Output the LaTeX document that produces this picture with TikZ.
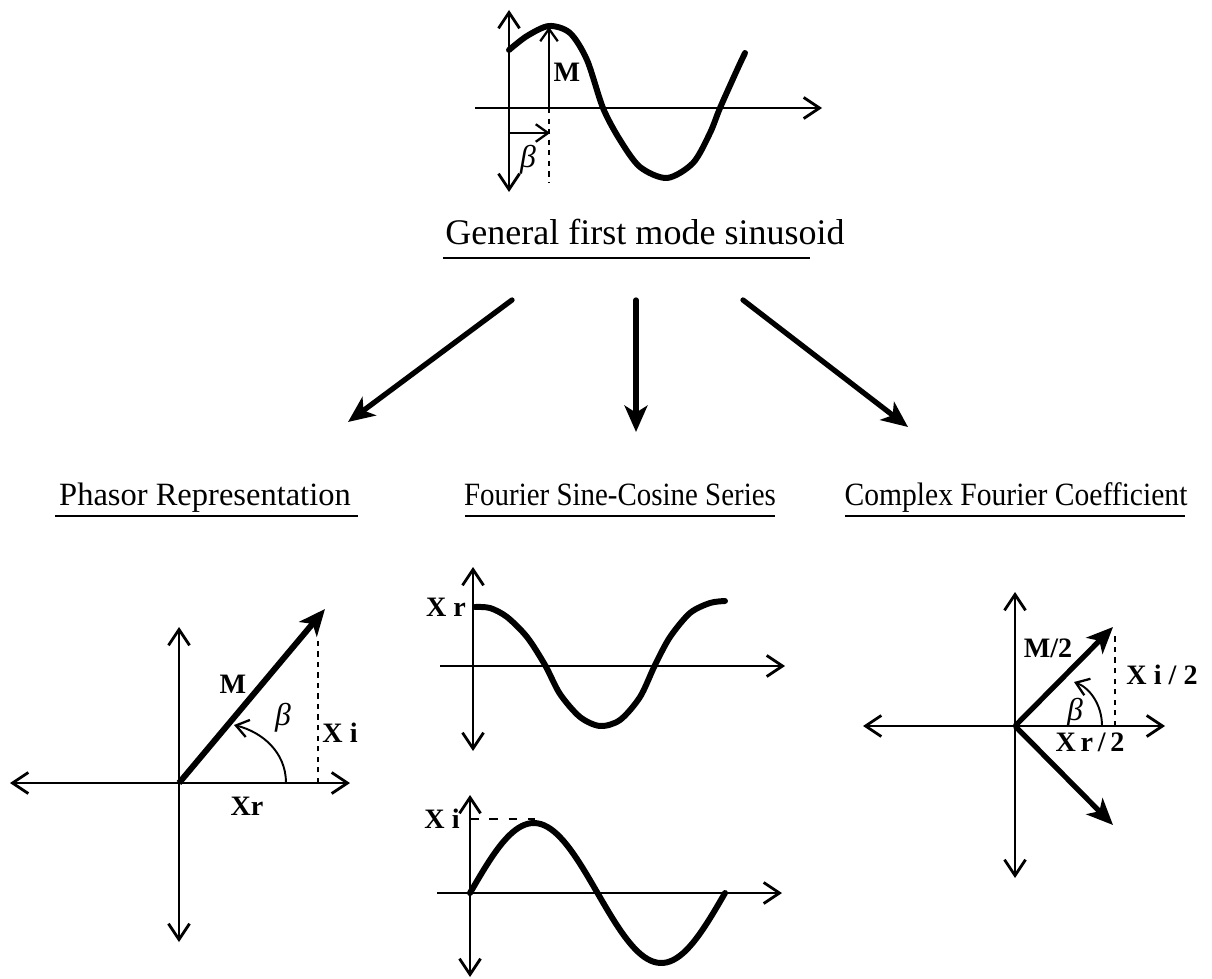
\documentclass[tikz,border=0pt]{standalone}
\usepackage{fontspec}
\setmainfont{Liberation Serif}
\usepackage{tikz}
\usetikzlibrary{arrows.meta,positioning,calc}

\tikzset{
    barb/.tip={Straight Barb[length=9pt,width=12pt,line width=1.6pt]},
    smallbarb/.tip={Straight Barb[length=7pt,width=10pt,line width=1.3pt]},
    bigtip/.tip={Stealth[length=15pt,width=13pt,inset=4pt]},
    axisline/.style={line width=1.1pt},
    wave/.style={line width=3.4pt,line cap=round,line join=round},
    vec/.style={line width=3.4pt,-bigtip},
    bigarrow/.style={line width=3pt,line cap=round,-bigtip},
    guide/.style={line width=1.1pt,dash pattern=on 3pt off 3pt},
    uline/.style={line width=1pt},
    lbl/.style={font=\fontsize{16}{18}\selectfont\bfseries,inner sep=1pt},
    greek/.style={font=\fontsize{18}{20}\selectfont\itshape,inner sep=1pt},
    maintitle/.style={font=\fontsize{20.5}{23}\selectfont,inner sep=0pt,anchor=base},
    subtitle/.style={font=\fontsize{18.5}{21}\selectfont,inner sep=0pt,anchor=base}
}

\begin{document}
\begin{tikzpicture}[x=0.02cm,y=-0.02cm]
            \useasboundingbox (0,0) rectangle (1212,979);

            % general first mode sinusoid
            \draw[axisline,barb-barb] (509,10) -- (509,192);
            \draw[axisline,-barb] (475,108) -- (822,108);
            \draw[wave] plot[smooth] coordinates {(509,50) (527,36) (549,26) (570,33) (587,60)
                (603,108) (620,140) (640,167) (667,178) (693,163) (710,133) (720,108) (737,70) (745,53)};
            \draw[axisline,-smallbarb] (549,108) -- (549,27);
            \draw[guide] (549,108) -- (549,182);
            \draw[axisline,-smallbarb] (509,133) -- (550,133);
            \node[lbl] (mag) at (567,72) {M};
            \node[greek] (shift) at (528,160) {β};

            \node[maintitle] (general) at (645,245) {General first mode sinusoid};
            \draw[uline] (443,258) -- (810,258);

            \coordinate (fromL) at (512,300);
            \coordinate (fromM) at (636,300);
            \coordinate (fromR) at (743,300);
            \coordinate (toL) at (348,422);
            \coordinate (toM) at (636,432);
            \coordinate (toR) at (908,427);
            \draw[bigarrow] (fromL) -- (toL);
            \draw[bigarrow] (fromM) -- (toM);
            \draw[bigarrow] (fromR) -- (toR);

            \node[subtitle] (phasor) at (205,505) {Phasor Representation};
            \node[subtitle] (fourier) at (620,505) {\scalebox{0.89}[1]{Fourier Sine-Cosine Series}};
            \node[subtitle] (complex) at (1016,505) {\scalebox{0.91}[1]{Complex Fourier Coefficient}};
            \draw[uline] (55,516) -- (358,516);
            \draw[uline] (465,516) -- (775,516);
            \draw[uline] (845,516) -- (1185,516);

            % phasor
            \draw[axisline,barb-barb] (10,783) -- (350,783);
            \draw[axisline,barb-barb] (179,627) -- (179,942);
            \draw[guide] (318,783) -- (318,640);
            \draw[vec] (179,783) -- (325,609);
            \draw[axisline,-smallbarb] (286,783) .. controls (286,752) and (262,732) .. (234,725);
            \node[lbl] (pm) at (233,684) {M};
            \node[greek] (pb) at (283,718) {β};
            \node[lbl] (pxi) at (340,733) {X i};
            \node[lbl] (pxr) at (247,806) {Xr};

            % fourier cosine part
            \draw[axisline,barb-barb] (473,567) -- (473,751);
            \draw[axisline,-barb] (440,666) -- (785,666);
            \draw[wave] plot[smooth] coordinates {(475,607) (490,608) (507,617) (527,637) (545,665)
                (560,694) (580,717) (600,726) (620,720) (640,697) (655,665) (670,637) (690,613) (710,603) (725,601)};
            \node[lbl] (fxr) at (446,607) {X r};

            % fourier sine part
            \draw[axisline,barb-barb] (470,795) -- (470,977);
            \draw[axisline,-barb] (437,893) -- (782,893);
            \draw[wave] plot[domain=470:725,samples=80] (\x,{893-70*sin((\x-470)/255*360)});
            \draw[axisline,dash pattern=on 5pt off 6pt] (470,819) -- (535,819);
            \node[lbl] (fxi) at (442,819) {X i};

            % complex coefficient
            \draw[axisline,barb-barb] (863,726) -- (1165,726);
            \draw[axisline,barb-barb] (1015,592) -- (1015,878);
            \draw[guide] (1115,726) -- (1115,632);
            \draw[vec,line width=3pt] (1015,726) -- (1113,627);
            \draw[vec,line width=3pt] (1015,726) -- (1113,825);
            \draw[axisline,-smallbarb] (1102,726) .. controls (1102,705) and (1090,688) .. (1074,682);
            \node[lbl] (cm) at (1048,648) {M/2};
            \node[lbl] (cxi) at (1162,675) {X i / 2};
            \node[greek] (cb) at (1075,713) {β};
            \node[lbl] (cxr) at (1090,742) {X\,r\,/\,2};
        \end{tikzpicture}
\end{document}
